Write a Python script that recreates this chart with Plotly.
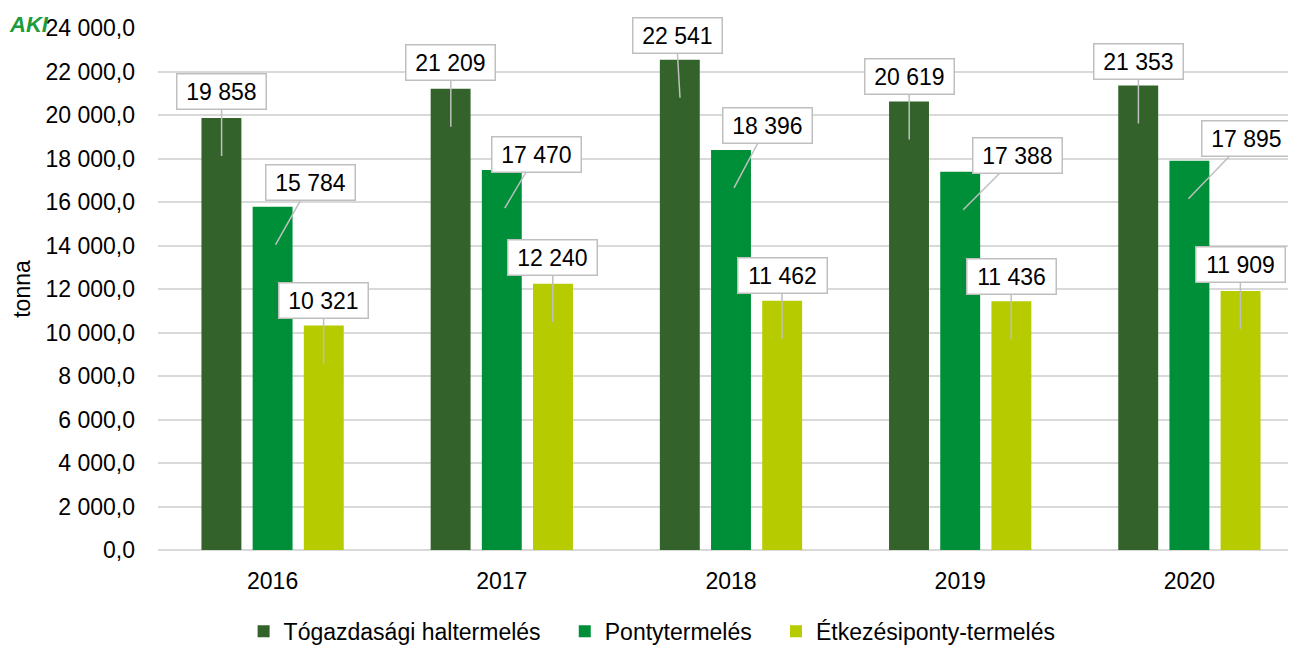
import plotly.graph_objects as go

years = ["2016", "2017", "2018", "2019", "2020"]
series_names = ["Tógazdasági haltermelés", "Pontytermelés", "Étkezésiponty-termelés"]
togazdasagi = [19858, 21209, 22541, 20619, 21353]
ponty = [15784, 17470, 18396, 17388, 17895]
etkezesi = [10321, 12240, 11462, 11436, 11909]

colors = ["#33632B", "#008F39", "#B6CB00"]
# callout styling (pixel offsets of label boxes)
bar_px = [-51, 0, 51]
tip_dx = [[0, 0, 0, 0, 0], [3, 3, 3, 3, -1], [0, 0, 0, 0, 0]]
box_ax = [[0, 0, -3, 0, 0], [35, 32, 33, 54, 58], [0, 0, 0, 0, 0]]
box_ay = [[-65, -64, -62, -63, -62], [-62, -54, -62, -54, -60], [-63, -64, -63, -63, -64]]
TIP_DROP = -38

all_values = [togazdasagi, ponty, etkezesi]
FONT = "Liberation Sans, Arial, sans-serif"
PAD = "\u00a0\u00a0\u00a0"

fig = go.Figure()
for k, (name, vals, col) in enumerate(zip(series_names, all_values, colors)):
    label = name + (PAD if k < 2 else "")
    fig.add_trace(go.Bar(x=years, y=vals, name=label, marker=dict(color=col, line=dict(width=0))))

arrows, boxes = [], []
for s, vals in enumerate(all_values):
    for i, v in enumerate(vals):
        tipx = bar_px[s] + tip_dx[s][i]
        arrows.append(dict(
            x=i, y=v, xref="x", yref="y",
            xshift=tipx, yshift=TIP_DROP,
            ax=box_ax[s][i], ay=box_ay[s][i], axref="pixel", ayref="pixel",
            text=" ", showarrow=True, arrowhead=0, arrowwidth=1.5,
            arrowcolor="#BFBFBF", standoff=0,
            font=dict(family=FONT, size=4),
        ))
        boxes.append(dict(
            x=i, y=v, xref="x", yref="y",
            xshift=tipx + box_ax[s][i], yshift=TIP_DROP - box_ay[s][i],
            xanchor="center", yanchor="middle",
            text=f"{v:,}".replace(",", " "),
            showarrow=False,
            bgcolor="white", bordercolor="#BFBFBF", borderwidth=1.5, borderpad=5,
            width=78, height=24,
            font=dict(family=FONT, size=23, color="#000000"),
        ))

annotations = arrows + boxes
annotations.append(dict(
    text="<b><i>AKI</i></b>", xref="paper", yref="paper", x=-0.1126, y=1.0, yshift=4,
    xanchor="center", yanchor="middle", showarrow=False,
    font=dict(family=FONT, size=22, color="#1E9B3A"),
))

fig.update_layout(
    width=1296, height=648,
    margin=dict(l=150, r=0, t=20, b=106),
    paper_bgcolor="white", plot_bgcolor="white",
    separators=", ",
    barmode="group", bargap=0.33, bargroupgap=0.22,
    font=dict(family=FONT, size=23, color="#000000"),
    showlegend=True,
    legend=dict(orientation="h", xref="container", x=0.497, xanchor="center",
                yref="container", y=0.005, yanchor="bottom",
                font=dict(family=FONT, size=23), itemwidth=30,
                traceorder="normal"),
    annotations=annotations,
)
fig.update_yaxes(range=[0, 24000], dtick=2000, tickformat=",.1f",
                 showgrid=True, gridcolor="#D9D9D9", gridwidth=1.5,
                 zeroline=True, zerolinecolor="#D9D9D9", zerolinewidth=1.5,
                 showline=False, ticklabelstandoff=22,
                 title=dict(text="tonna", standoff=8, font=dict(size=23)),
                 tickfont=dict(size=23))
fig.update_xaxes(type="category", range=[-0.5, 4.5], showline=False, ticks="",
                 ticklabelstandoff=15, tickfont=dict(size=23))

fig.write_html("out.html")
